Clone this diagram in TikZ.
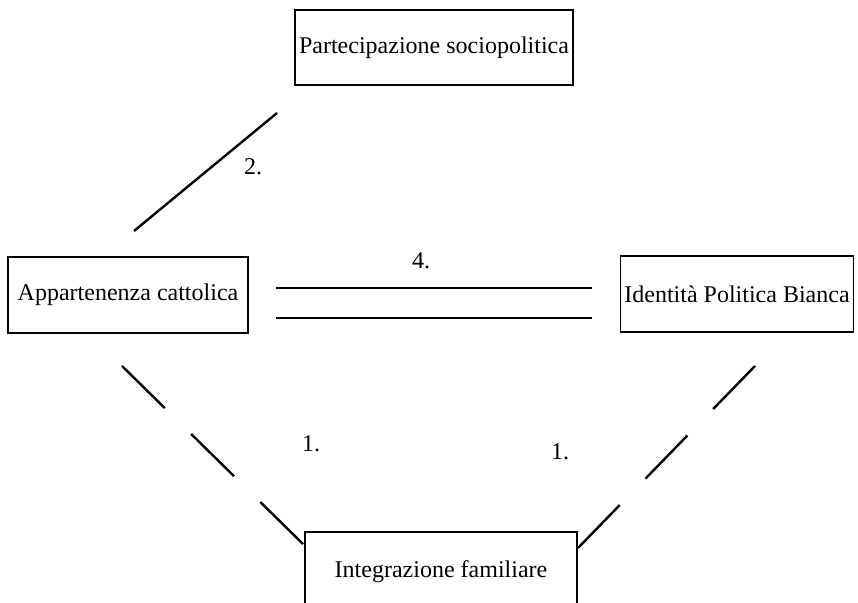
\documentclass[tikz,border=0pt]{standalone}
\usepackage{fontspec}
\setmainfont{Liberation Serif}
\usetikzlibrary{positioning}

\begin{document}
\begin{tikzpicture}
[x=0.5pt,y=-0.5pt,
 box/.style={draw,line width=0.7pt,inner sep=2pt,font=\fontsize{12}{14}\selectfont},
 link/.style={line width=1.2pt},
 dashlink/.style={link,dash pattern=on 30pt off 18.5pt},
 num/.style={font=\fontsize{12}{14}\selectfont}]
\useasboundingbox (0,0) rectangle (858,603);
\node[box,minimum width=136pt,minimum height=37.5pt] (part) at (434,47.5) {Partecipazione sociopolitica};
\node[box,minimum width=120pt,minimum height=38pt] (catt) at (128,295) {Appartenenza cattolica};
\node[box,minimum width=115pt,minimum height=38pt] (ident) at (737,294) {Identità Politica Bianca};
\node[box,minimum width=136pt,anchor=base,text height=21pt,text depth=20pt] (fam) at (441,578) {Integrazione familiare};
% ends of the links
\coordinate (c2a) at (134,231);
\coordinate (c2b) at (277,113);
\coordinate (c4a) at (276,288);
\coordinate (c4b) at (592,288);
\coordinate (c4c) at (276,318);
\coordinate (c4d) at (592,318);
\coordinate (c1a) at (122,366);
\coordinate (c1b) at (305,546);
\coordinate (c1c) at (755,366);
\coordinate (c1d) at (578,548);
\draw[link] (c2a) -- (c2b);
\draw[link] (c4a) -- (c4b) (c4c) -- (c4d);
\draw[dashlink] (c1a) -- (c1b);
\draw[dashlink] (c1c) -- (c1d);
\node[num] (n2) at (253,167) {2.};
\node[num] (n4) at (421,261) {4.};
\node[num] (n1a) at (311,444) {1.};
\node[num] (n1b) at (560,452) {1.};
\end{tikzpicture}
\end{document}
